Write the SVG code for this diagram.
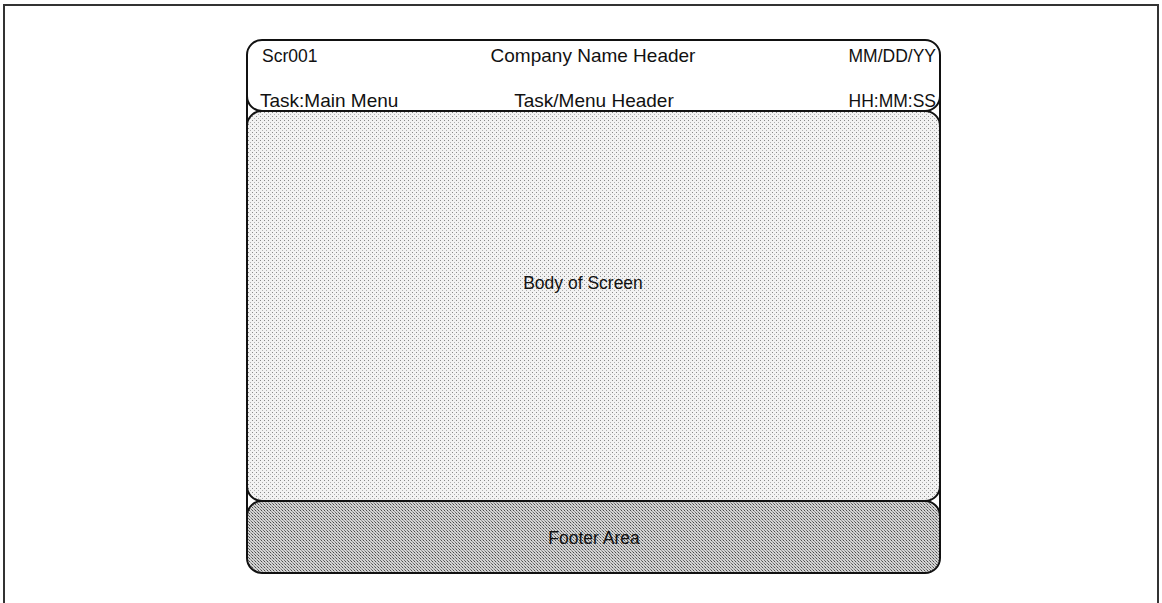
<svg xmlns="http://www.w3.org/2000/svg" width="1162" height="603" viewBox="0 0 1162 603">
  <defs>
    <!-- light stipple for the screen body -->
    <pattern id="dotsLight" width="4" height="4" patternUnits="userSpaceOnUse">
      <rect width="4" height="4" fill="#f2f2f2"/>
      <rect x="0" y="0" width="1" height="1" fill="#888"/>
      <rect x="2" y="2" width="1" height="1" fill="#b0b0b0"/>
    </pattern>
    <!-- denser stipple for the footer -->
    <pattern id="dotsDense" width="3" height="3" patternUnits="userSpaceOnUse">
      <rect width="3" height="3" fill="#d4d4d4"/>
      <rect x="0" y="0" width="1" height="1" fill="#4a4a4a"/>
      <rect x="1" y="1" width="1" height="1" fill="#999"/>
      <rect x="2" y="2" width="1" height="1" fill="#707070"/>
    </pattern>
  </defs>
  <style>
    .frame { fill: none; stroke: #333; stroke-width: 2; }
    .box { stroke: #111; stroke-width: 2; }
    .edge { stroke: #111; stroke-width: 2; fill: none; }
    .lbl { font-family: "Liberation Sans", Arial, sans-serif; font-size: 17.5px; fill: #111; }
    .big { font-size: 19px; }
    .mid { text-anchor: middle; }
    .end { text-anchor: end; }
  </style>

  <rect width="1162" height="603" fill="#fff"/>

  <!-- page frame -->
  <path class="frame" d="M4,603 V5 H1158 V603"/>

  <!-- header band -->
  <g id="header">
    <rect class="box" x="247" y="40" width="693" height="71" rx="15" ry="15" fill="#fff"/>
    <text class="lbl" x="262" y="62">Scr001</text>
    <text class="lbl big mid" x="593" y="62">Company Name Header</text>
    <text class="lbl end" x="936" y="62">MM/DD/YY</text>
    <text class="lbl big" x="260" y="107">Task:Main Menu</text>
    <text class="lbl big mid" x="594" y="107">Task/Menu Header</text>
    <text class="lbl end" x="936" y="107">HH:MM:SS</text>
  </g>

  <!-- screen body -->
  <g id="body">
    <rect class="box" x="247" y="111" width="693" height="390" rx="15" ry="15" fill="url(#dotsLight)"/>
    <text class="lbl mid" x="583" y="289">Body of Screen</text>
  </g>

  <!-- footer -->
  <g id="footer">
    <rect class="box" x="247" y="501" width="693" height="72" rx="15" ry="15" fill="url(#dotsDense)"/>
    <text class="lbl mid" x="594" y="544">Footer Area</text>
  </g>

  <!-- continuous side rails of the screen -->
  <g id="rails">
    <line class="edge" x1="247" y1="55" x2="247" y2="558"/>
    <line class="edge" x1="940" y1="55" x2="940" y2="558"/>
  </g>
</svg>
